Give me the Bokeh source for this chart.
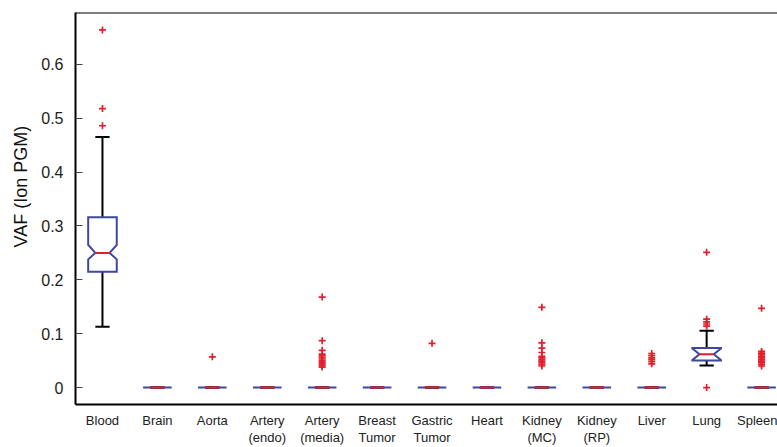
import numpy as np
from bokeh.plotting import figure
from bokeh.models import FixedTicker, Span, Range1d, LinearAxis, Title
from bokeh.embed import file_html
from bokeh.resources import INLINE

# ---------------- data ----------------
categories = ["Blood", "Brain", "Aorta", "Artery\n(endo)", "Artery\n(media)",
              "Breast\nTumor", "Gastric\nTumor", "Heart", "Kidney\n(MC)",
              "Kidney\n(RP)", "Liver", "Lung", "Spleen"]
q1         = [0.215, 0, 0, 0, 0, 0, 0, 0, 0, 0, 0, 0.050, 0]
median     = [0.250, 0, 0, 0, 0, 0, 0, 0, 0, 0, 0, 0.0617, 0]
q3         = [0.316, 0, 0, 0, 0, 0, 0, 0, 0, 0, 0, 0.0735, 0]
notch_lo   = [0.238, 0, 0, 0, 0, 0, 0, 0, 0, 0, 0, 0.051, 0]
notch_hi   = [0.265, 0, 0, 0, 0, 0, 0, 0, 0, 0, 0, 0.0725, 0]
whisker_lo = [0.113, 0, 0, 0, 0, 0, 0, 0, 0, 0, 0, 0.0407, 0]
whisker_hi = [0.465, 0, 0, 0, 0, 0, 0, 0, 0, 0, 0, 0.1056, 0]

outlier_cat = (["Blood"] * 3 + ["Aorta"] +
               ["Artery\n(media)"] * 12 + ["Gastric\nTumor"] +
               ["Kidney\n(MC)"] * 11 + ["Liver"] * 6 + ["Lung"] * 6 +
               ["Spleen"] * 11)
outlier_val = ([0.664, 0.518, 0.486] + [0.057] +
               [0.168, 0.087, 0.069, 0.062, 0.059, 0.056, 0.053, 0.050, 0.047,
                0.044, 0.041, 0.038] + [0.082] +
               [0.149, 0.083, 0.073, 0.065, 0.058, 0.055, 0.052, 0.049, 0.046,
                0.043, 0.040] +
               [0.063, 0.059, 0.055, 0.052, 0.048, 0.044] +
               [0.251, 0.127, 0.122, 0.118, 0.114, 0.0] +
               [0.147, 0.067, 0.064, 0.061, 0.058, 0.055, 0.052, 0.049, 0.046,
                0.043, 0.040])

y_ticks = [0, 0.1, 0.2, 0.3, 0.4, 0.5, 0.6]

# ---------------- layout ----------------
BLUE = "#3C47A0"
RED = "#E41E2B"
FONT = "Liberation Sans"

pos = np.arange(1, len(categories) + 1)
cat_pos = {c: p for c, p in zip(categories, pos)}
hw = 0.26          # half box width
nw = hw / 2        # notch / cap half width

x_start, x_end = 0.509, 13.29
y_start, y_end = -0.0315, 0.6963

p = figure(width=777, height=447, output_backend="svg", toolbar_location=None,
           x_range=Range1d(x_start, x_end), y_range=Range1d(y_start, y_end),
           min_border_left=74, min_border_right=0, min_border_top=12,
           min_border_bottom=0)
p.outline_line_color = None
p.xgrid.visible = False
p.ygrid.visible = False

# whiskers
p.segment(x0=pos, y0=q3, x1=pos, y1=whisker_hi, line_color="black", line_width=2)
p.segment(x0=pos, y0=q1, x1=pos, y1=whisker_lo, line_color="black", line_width=2)
p.segment(x0=pos - nw, y0=whisker_hi, x1=pos + nw, y1=whisker_hi, line_color="black", line_width=2)
p.segment(x0=pos - nw, y0=whisker_lo, x1=pos + nw, y1=whisker_lo, line_color="black", line_width=2)

# notched boxes
xs, ys = [], []
for x, a, nl, m, nh, b in zip(pos, q1, notch_lo, median, notch_hi, q3):
    xs.append([x - hw, x - hw, x - nw, x - hw, x - hw, x + hw, x + hw, x + nw, x + hw, x + hw])
    ys.append([a, nl, m, nh, b, b, nh, m, nl, a])
p.patches(xs, ys, fill_color=None, line_color=BLUE, line_width=2, line_join="miter")

# medians
p.segment(x0=pos - nw, y0=median, x1=pos + nw, y1=median, line_color=RED, line_width=2)

# outliers
ox = [cat_pos[c] for c in outlier_cat]
p.scatter(ox, outlier_val, marker="cross", size=7, line_color=RED, line_width=1.7)

# top border
p.add_layout(Span(location=y_end, dimension="width", line_color="black", line_width=2))

# y axis
yax = p.yaxis[0]
yax.ticker = FixedTicker(ticks=y_ticks)
yax.major_label_overrides = {0: "0"}
yax.major_tick_in = 7
yax.major_tick_out = 0
yax.major_tick_line_color = "#444444"
yax.minor_tick_line_color = None
yax.axis_line_width = 2
yax.major_label_standoff = 12
yax.major_label_text_font = FONT
yax.major_label_text_font_size = "16px"
yax.major_label_text_color = "#222222"

# y axis title as a left-side title, placed like the reference
ytitle = Title(text="VAF (Ion PGM)", align="left", offset=157, standoff=16,
               text_font=FONT, text_font_size="18px", text_font_style="normal",
               text_color="#111111")
p.add_layout(ytitle, "left")

# x axis: two stacked axes, one per label line
line1 = [c.split("\n")[0] for c in categories]
line2 = [c.split("\n")[1] if "\n" in c else "" for c in categories]

xax = p.xaxis[0]
xax.ticker = FixedTicker(ticks=list(pos))
xax.major_label_overrides = {int(k): t for k, t in zip(pos, line1)}
xax.major_tick_in = 0
xax.major_tick_out = 0
xax.major_tick_line_color = None
xax.minor_tick_line_color = None
xax.axis_line_width = 2
xax.major_label_standoff = 8
xax.major_label_text_font = FONT
xax.major_label_text_font_size = "13px"
xax.major_label_text_color = "#222222"

xax2 = LinearAxis(ticker=FixedTicker(ticks=list(pos)),
                  major_label_overrides={int(k): t for k, t in zip(pos, line2)})
xax2.axis_line_color = None
xax2.major_tick_in = 0
xax2.major_tick_out = 0
xax2.major_tick_line_color = None
xax2.minor_tick_line_color = None
xax2.major_label_standoff = -1
xax2.major_label_text_font = FONT
xax2.major_label_text_font_size = "13px"
xax2.major_label_text_color = "#222222"
p.add_layout(xax2, "below")

open("out.html", "w").write(file_html(p, INLINE))
